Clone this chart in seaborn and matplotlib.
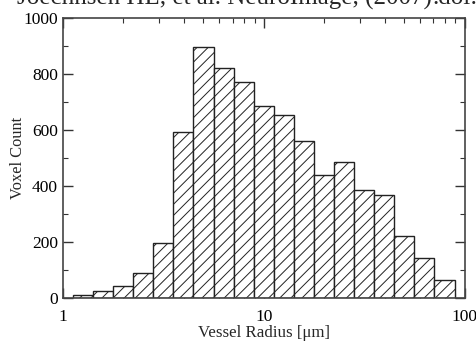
import matplotlib
matplotlib.use("Agg")
import matplotlib.pyplot as plt
import seaborn as sns
from matplotlib.ticker import MultipleLocator, FixedLocator, FixedFormatter


# Histogram of vessel radii (log-spaced bins, 0.1 decade wide)
radius_um = [1.26, 1.58, 2.0, 2.51, 3.16, 3.98, 5.01, 6.31, 7.94, 10.0,
             12.6, 15.8, 20.0, 25.1, 31.6, 39.8, 50.1, 63.1, 79.4]
voxel_count = [10, 25, 44, 91, 195, 592, 897, 820, 771, 686,
               655, 561, 438, 486, 387, 369, 220, 144, 64]

x_ticks = [1, 10, 100]
x_tick_labels = ["1", "10", "100"]

sns.set_theme(style="ticks")
plt.rcParams["font.family"] = ["Liberation Serif", "DejaVu Serif"]
plt.rcParams["hatch.linewidth"] = 0.7
plt.rcParams["hatch.color"] = "#222222"

fig = plt.figure(figsize=(4.77, 3.42), dpi=100)
ax = fig.add_axes([0.132, 0.1287, 0.842, 0.8186])

sns.histplot(
    x=radius_um,
    weights=voxel_count,
    bins=19,
    binrange=(0.05, 1.95),
    log_scale=True,
    element="bars",
    facecolor="white",
    edgecolor="#222222",
    linewidth=1.0,
    hatch="///",
    alpha=1,
    ax=ax,
)

ax.set_xlim(1, 100)
ax.set_ylim(0, 1000)
ax.xaxis.set_major_locator(FixedLocator(x_ticks))
ax.xaxis.set_major_formatter(FixedFormatter(x_tick_labels))
ax.yaxis.set_major_locator(MultipleLocator(200))
ax.yaxis.set_minor_locator(MultipleLocator(100))

ax.tick_params(which="both", direction="in", top=True, right=True,
               colors="#333333", labelcolor="black", labelsize=12.5)
ax.tick_params(which="major", length=7, width=1)
ax.tick_params(which="minor", length=3.5, width=0.8)
ax.tick_params(axis="x", pad=8)
for spine in ax.spines.values():
    spine.set_visible(True)
    spine.set_linewidth(1.2)
    spine.set_color("#444444")

ax.set_xlabel("Vessel Radius [\u03bcm]", fontsize=12.2, labelpad=0)
ax.set_ylabel("Voxel Count", fontsize=11.8, labelpad=-2)

# clipped caption line from the page above the figure (only its bottom shows)
fig.text(0.906, 0.988, "Joechnsen HL, et al. NeuroImage, (2007)",
         ha="right", va="baseline", fontsize=18)
fig.text(0.906, 0.988, ".doi:10",
         ha="left", va="baseline", fontsize=18)

fig.savefig("out.png", dpi=100)
